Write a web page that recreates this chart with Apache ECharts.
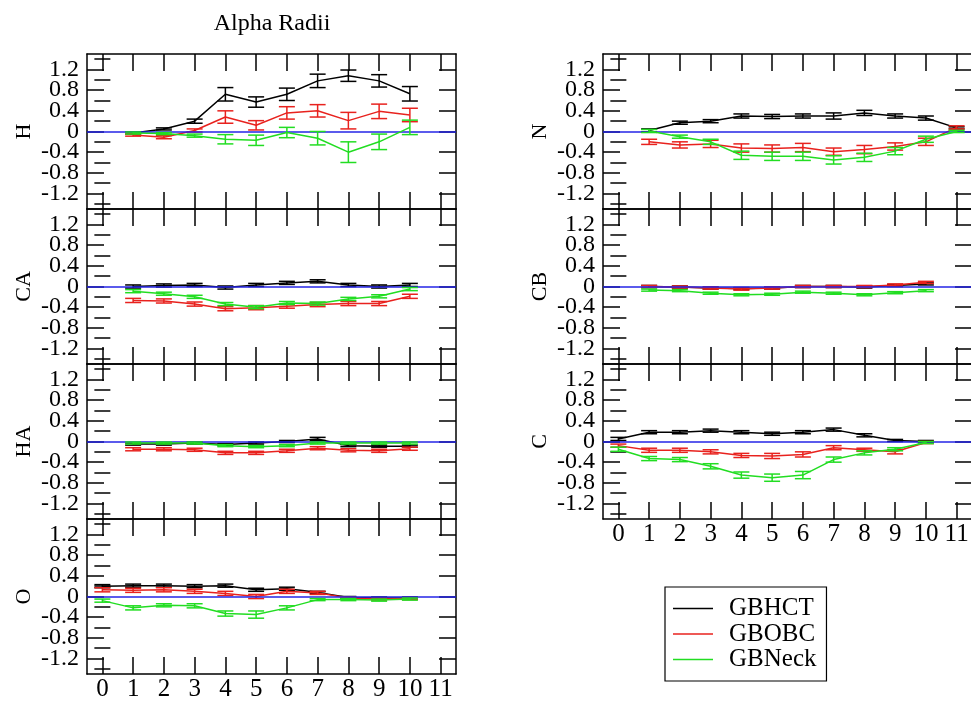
<!DOCTYPE html>
<html>
<head>
<meta charset="utf-8">
<title>Alpha Radii</title>
<script src="https://cdn.jsdelivr.net/npm/echarts@6/dist/echarts.min.js"></script>
<style>
  html, body { margin: 0; padding: 0; background: #fff; }
  #chart { width: 971px; height: 705px; }
</style>
</head>
<body>
<div id="chart"></div>
<script>
// ---- residue positions for each atom panel ----
const xH  = [1, 2, 3, 4, 5, 6, 7, 8, 9, 10];
const xCA = [1, 2, 3, 4, 5, 6, 7, 8, 9, 10];
const xHA = [1, 2, 3, 4, 5, 6, 7, 8, 9, 10];
const xO  = [0, 1, 2, 3, 4, 5, 6, 7, 8, 9, 10];
const xN  = [1, 2, 3, 4, 5, 6, 7, 8, 9, 10, 11];
const xCB = [1, 2, 3, 4, 5, 6, 7, 8, 9, 10];
const xC  = [0, 1, 2, 3, 4, 5, 6, 7, 8, 9, 10];

// ---- H ----
const hctH     = [-0.03, 0.05, 0.20, 0.72, 0.57, 0.72, 0.98, 1.08, 0.98, 0.73];
const hctHErr  = [0.02, 0.02, 0.04, 0.13, 0.10, 0.12, 0.13, 0.11, 0.12, 0.14];
const obcH     = [-0.07, -0.11, 0.02, 0.28, 0.12, 0.36, 0.40, 0.21, 0.39, 0.32];
const obcHErr  = [0.02, 0.03, 0.03, 0.12, 0.09, 0.12, 0.12, 0.16, 0.14, 0.13];
const neckH    = [-0.03, -0.04, -0.08, -0.15, -0.17, -0.02, -0.13, -0.40, -0.20, 0.08];
const neckHErr = [0.02, 0.02, 0.03, 0.09, 0.10, 0.10, 0.13, 0.20, 0.15, 0.14];

// ---- CA ----
const hctCA     = [0.00, 0.02, 0.03, -0.02, 0.03, 0.07, 0.10, 0.03, 0.00, 0.03];
const hctCAErr  = [0.03, 0.03, 0.03, 0.03, 0.03, 0.03, 0.03, 0.03, 0.03, 0.03];
const obcCA     = [-0.27, -0.28, -0.34, -0.43, -0.41, -0.38, -0.35, -0.33, -0.33, -0.19];
const obcCAErr  = [0.04, 0.04, 0.04, 0.04, 0.04, 0.04, 0.04, 0.04, 0.04, 0.04];
const neckCA    = [-0.09, -0.14, -0.20, -0.34, -0.40, -0.32, -0.33, -0.24, -0.19, -0.05];
const neckCAErr = [0.03, 0.03, 0.03, 0.03, 0.03, 0.03, 0.03, 0.03, 0.03, 0.03];

// ---- HA ----
const hctHA     = [-0.05, -0.05, -0.03, -0.06, -0.03, 0.00, 0.05, -0.08, -0.09, -0.09];
const hctHAErr  = [0.02, 0.02, 0.02, 0.02, 0.02, 0.02, 0.03, 0.02, 0.02, 0.02];
const obcHA     = [-0.15, -0.15, -0.16, -0.22, -0.22, -0.18, -0.13, -0.17, -0.18, -0.14];
const obcHAErr  = [0.03, 0.03, 0.03, 0.03, 0.03, 0.03, 0.03, 0.03, 0.03, 0.03];
const neckHA    = [-0.03, -0.03, -0.03, -0.08, -0.10, -0.08, -0.03, -0.03, -0.03, -0.03];
const neckHAErr = [0.02, 0.02, 0.02, 0.02, 0.02, 0.02, 0.02, 0.02, 0.02, 0.02];

// ---- O ----
const hctO     = [0.20, 0.21, 0.21, 0.20, 0.21, 0.13, 0.15, 0.08, -0.02, -0.03, -0.03];
const hctOErr  = [0.03, 0.03, 0.03, 0.03, 0.03, 0.03, 0.03, 0.02, 0.02, 0.02, 0.02];
const obcO     = [0.13, 0.12, 0.13, 0.10, 0.06, 0.00, 0.10, 0.07, -0.03, -0.05, -0.04];
const obcOErr  = [0.04, 0.04, 0.04, 0.04, 0.04, 0.04, 0.04, 0.03, 0.02, 0.02, 0.02];
const neckO    = [-0.08, -0.22, -0.17, -0.18, -0.33, -0.35, -0.22, -0.06, -0.06, -0.07, -0.05];
const neckOErr = [0.03, 0.04, 0.03, 0.04, 0.05, 0.07, 0.04, 0.02, 0.02, 0.02, 0.02];

// ---- N ----
const hctN     = [0.02, 0.17, 0.20, 0.30, 0.29, 0.30, 0.30, 0.36, 0.30, 0.26, 0.07];
const hctNErr  = [0.03, 0.03, 0.03, 0.04, 0.04, 0.04, 0.06, 0.05, 0.04, 0.04, 0.02];
const obcN     = [-0.20, -0.26, -0.24, -0.32, -0.33, -0.31, -0.39, -0.35, -0.29, -0.20, 0.08];
const obcNErr  = [0.05, 0.06, 0.07, 0.08, 0.07, 0.08, 0.07, 0.08, 0.07, 0.07, 0.03];
const neckN    = [0.01, -0.10, -0.20, -0.46, -0.48, -0.48, -0.55, -0.50, -0.38, -0.15, 0.00];
const neckNErr = [0.03, 0.03, 0.05, 0.08, 0.08, 0.08, 0.08, 0.08, 0.07, 0.06, 0.02];

// ---- CB ----
const hctCB     = [0.00, -0.01, -0.03, -0.04, -0.03, 0.00, 0.00, -0.01, 0.02, 0.05];
const hctCBErr  = [0.02, 0.02, 0.02, 0.02, 0.02, 0.02, 0.02, 0.02, 0.02, 0.02];
const obcCB     = [0.00, -0.01, -0.03, -0.05, -0.03, 0.00, 0.00, 0.00, 0.03, 0.08];
const obcCBErr  = [0.02, 0.02, 0.02, 0.02, 0.02, 0.02, 0.02, 0.02, 0.02, 0.02];
const neckCB    = [-0.07, -0.08, -0.13, -0.16, -0.15, -0.11, -0.13, -0.16, -0.12, -0.08];
const neckCBErr = [0.02, 0.02, 0.02, 0.02, 0.02, 0.02, 0.02, 0.02, 0.02, 0.02];

// ---- C ----
const hctC     = [0.05, 0.18, 0.18, 0.21, 0.18, 0.15, 0.18, 0.23, 0.12, 0.02, 0.00];
const hctCErr  = [0.03, 0.03, 0.03, 0.03, 0.03, 0.03, 0.03, 0.03, 0.03, 0.02, 0.02];
const obcC     = [-0.08, -0.17, -0.17, -0.20, -0.27, -0.28, -0.25, -0.12, -0.16, -0.20, -0.02];
const obcCErr  = [0.03, 0.04, 0.04, 0.04, 0.04, 0.05, 0.05, 0.04, 0.03, 0.04, 0.02];
const neckC    = [-0.15, -0.33, -0.35, -0.48, -0.65, -0.70, -0.65, -0.35, -0.22, -0.15, -0.02];
const neckCErr = [0.04, 0.04, 0.04, 0.05, 0.06, 0.07, 0.07, 0.05, 0.04, 0.03, 0.02];

// ---- axis ticks and labels ----
const xTicks = [0, 1, 2, 3, 4, 5, 6, 7, 8, 9, 10, 11];
const yMajor = [-1.2, -0.8, -0.4, 0, 0.4, 0.8, 1.2];
const yMinor = [-1.4, -1.0, -0.6, -0.2, 0.2, 0.6, 1.0, 1.4];
// labels are split over two stacked axes so neighbouring labels never collide
const yLabelsA = [-1.2, -0.4, 0.4, 1.2];
const yLabelsB = [-0.8, 0, 0.8];
const seriesNames = ['GBHCT', 'GBOBC', 'GBNeck'];

// panel table assembled from the arrays above
const panels = [
  { name: 'H',  x: xH,  sets: [[hctH, hctHErr], [obcH, obcHErr], [neckH, neckHErr]] },
  { name: 'CA', x: xCA, sets: [[hctCA, hctCAErr], [obcCA, obcCAErr], [neckCA, neckCAErr]] },
  { name: 'HA', x: xHA, sets: [[hctHA, hctHAErr], [obcHA, obcHAErr], [neckHA, neckHAErr]] },
  { name: 'O',  x: xO,  sets: [[hctO, hctOErr], [obcO, obcOErr], [neckO, neckOErr]] },
  { name: 'N',  x: xN,  sets: [[hctN, hctNErr], [obcN, obcNErr], [neckN, neckNErr]] },
  { name: 'CB', x: xCB, sets: [[hctCB, hctCBErr], [obcCB, obcCBErr], [neckCB, neckCBErr]] },
  { name: 'C',  x: xC,  sets: [[hctC, hctCErr], [obcC, obcCErr], [neckC, neckCErr]] }
];

// ---- layout and styling ----
const FONT = "'Liberation Serif', 'Times New Roman', Times, serif";
const COLORS = ['#000000', '#e8221e', '#22dd22'];
const ZERO_COLOR = '#2424e6';
const PANEL_W = 369, PANEL_H = 155;
const layout = [
  { left: 87, top: 54 },  { left: 87, top: 209 },  { left: 87, top: 364 },  { left: 87, top: 519 },
  { left: 603, top: 54 }, { left: 603, top: 209 }, { left: 603, top: 364 }
];
const labelledX = { 3: true, 6: true };
const frame = { color: '#000', width: 1.5 };
const yLabelStyle = {
  margin: 8, showMinLabel: true, showMaxLabel: true, hideOverlap: false,
  color: '#000', fontFamily: FONT, fontSize: 24,
  formatter: function (v) { return String(Math.round(v * 10) / 10); }
};

const grids = [], xAxes = [], yAxes = [], series = [];

function errorBarRenderer(color) {
  return function (params, api) {
    const x = api.value(0);
    const lo = api.coord([x, api.value(1)]);
    const hi = api.coord([x, api.value(2)]);
    const hw = 8;
    const style = { stroke: color, lineWidth: 1.5 };
    return {
      type: 'group',
      children: [
        { type: 'line', shape: { x1: lo[0], y1: lo[1], x2: hi[0], y2: hi[1] }, style: style },
        { type: 'line', shape: { x1: lo[0] - hw, y1: lo[1], x2: lo[0] + hw, y2: lo[1] }, style: style },
        { type: 'line', shape: { x1: hi[0] - hw, y1: hi[1], x2: hi[0] + hw, y2: hi[1] }, style: style }
      ]
    };
  };
}

panels.forEach(function (p, i) {
  grids.push({
    left: layout[i].left, top: layout[i].top, width: PANEL_W, height: PANEL_H,
    outerBoundsMode: 'none', containLabel: false, show: false
  });

  ['bottom', 'top'].forEach(function (pos) {
    xAxes.push({
      gridIndex: i, type: 'value', position: pos, min: -0.5, max: 11.5,
      axisLine: { show: true, onZero: false, lineStyle: frame },
      axisTick: { show: true, inside: true, length: 17, customValues: xTicks, lineStyle: { color: '#000', width: 1.5 } },
      axisLabel: {
        show: pos === 'bottom' && !!labelledX[i], customValues: xTicks, margin: 3,
        showMinLabel: true, showMaxLabel: true, hideOverlap: false,
        color: '#000', fontFamily: FONT, fontSize: 25
      },
      splitLine: { show: false }
    });
  });

  ['left', 'right'].forEach(function (pos) {
    const isLeft = pos === 'left';
    yAxes.push({
      gridIndex: i, type: 'value', position: pos, min: -1.5, max: 1.5,
      name: isLeft ? p.name : '', nameLocation: 'middle', nameGap: 52, nameRotate: 90,
      nameTextStyle: { color: '#000', fontFamily: FONT, fontSize: 22 },
      axisLine: { show: true, onZero: false, lineStyle: frame },
      axisTick: { show: true, inside: true, length: 17, customValues: yMajor, lineStyle: { color: '#000', width: 1.5 } },
      axisLabel: Object.assign({ show: isLeft, customValues: yLabelsA }, yLabelStyle),
      splitLine: { show: false }
    });
    yAxes.push({
      gridIndex: i, type: 'value', position: pos, min: -1.5, max: 1.5,
      axisLine: { show: false },
      axisTick: { show: true, inside: true, length: 8, customValues: yMinor, lineStyle: { color: '#000', width: 1.5 } },
      axisLabel: Object.assign({ show: isLeft, customValues: yLabelsB }, yLabelStyle),
      splitLine: { show: false }
    });
  });

  const xIdx = 2 * i, yIdx = 4 * i;
  p.sets.forEach(function (set, k) {
    const vals = set[0], errs = set[1];
    const line = {
      name: seriesNames[k], type: 'line', xAxisIndex: xIdx, yAxisIndex: yIdx,
      data: p.x.map(function (x, j) { return [x, vals[j]]; }),
      symbol: 'none', color: COLORS[k],
      lineStyle: { color: COLORS[k], width: 1.5 }, z: 3 + k, animation: false
    };
    if (k === 0) {
      line.markLine = {
        silent: true, symbol: ['none', 'none'], animation: false,
        label: { show: false },
        lineStyle: { color: ZERO_COLOR, width: 1.5, type: 'solid' },
        data: [{ yAxis: 0 }]
      };
    }
    series.push(line);
    series.push({
      name: seriesNames[k], type: 'custom', xAxisIndex: xIdx, yAxisIndex: yIdx,
      renderItem: errorBarRenderer(COLORS[k]),
      encode: { x: 0, y: [1, 2] },
      data: p.x.map(function (x, j) { return [x, vals[j] - errs[j], vals[j] + errs[j]]; }),
      z: 3 + k, animation: false, color: COLORS[k]
    });
  });
});

const chart = echarts.init(document.getElementById('chart'), null, { renderer: 'canvas' });
chart.setOption({
  backgroundColor: '#fff',
  animation: false,
  title: {
    text: 'Alpha Radii', left: 272, top: 12, textAlign: 'center', padding: 0,
    textStyle: { color: '#000', fontFamily: FONT, fontSize: 24, fontWeight: 'normal' }
  },
  legend: {
    data: seriesNames.map(function (n) { return { name: n, icon: 'rect' }; }),
    orient: 'vertical', left: 665, top: 587,
    padding: [9, 10, 9, 8], itemGap: 0.5, itemWidth: 40, itemHeight: 1.5,
    borderColor: '#000', borderWidth: 1.2,
    textStyle: { color: '#000', fontFamily: FONT, fontSize: 25, lineHeight: 23, padding: [0, 0, 0, 11] }
  },
  grid: grids,
  xAxis: xAxes,
  yAxis: yAxes,
  series: series
});
</script>
</body>
</html>
